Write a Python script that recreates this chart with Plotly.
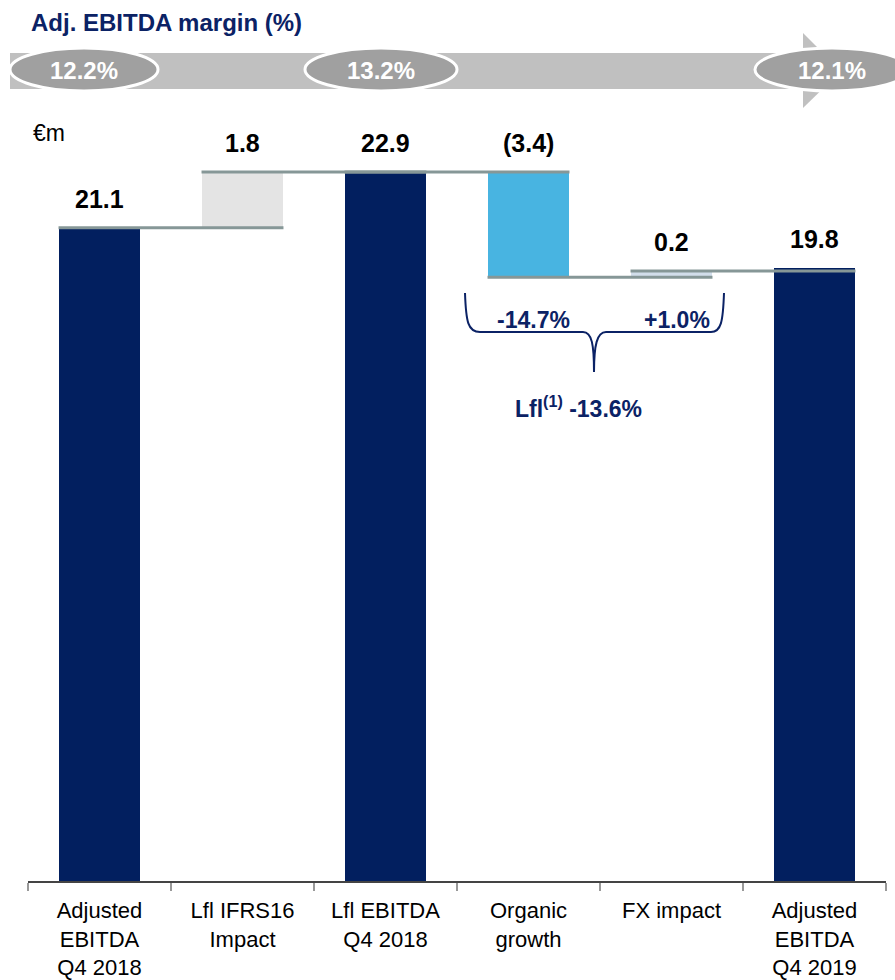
import plotly.graph_objects as go

# ---- data ----
categories = ["Adjusted<br>EBITDA<br>Q4 2018", "Lfl IFRS16<br>Impact", "Lfl EBITDA<br>Q4 2018",
              "Organic<br>growth", "FX impact", "Adjusted<br>EBITDA<br>Q4 2019"]
values = [21.1, 1.8, 22.9, -3.4, 0.2, 19.8]
measures = ["total", "relative", "total", "relative", "relative", "total"]
bar_colors = ["#021f5f", "#e4e4e4", "#021f5f", "#48b4e1", "#d2deeb", "#021f5f"]
margin_labels = ["12.2%", "13.2%", "12.1%"]
growth_labels = ["-14.7%", "+1.0%"]
lfl_label = "Lfl<sup>(1)</sup> -13.6%"

FONT = "Liberation Sans, Arial, sans-serif"
NAVY = "#0b2265"
CONN = "#869797"
W, H = 895, 980
L, R, T, B = 28, 9, 107, 99
YMAX = 25.0
BW = 0.573

# ---- compute bases ----
bases, tops = [], []
level = 0.0
for v, m in zip(values, measures):
    if m == "total":
        bases.append(0.0)
        level = v
    else:
        bases.append(level)
        level = level + v
    tops.append(level)

xs = list(range(len(values)))
fig = go.Figure()
fig.add_trace(go.Bar(x=xs, y=values, base=bases, width=BW,
                     marker=dict(color=bar_colors, line=dict(width=0)),
                     showlegend=False, hoverinfo="skip"))

# connector lines: level after bar i from bar i left edge to bar i+1 right edge
for i in range(len(values) - 1):
    fig.add_trace(go.Scatter(x=[i - BW / 2, i + 1 + BW / 2], y=[tops[i], tops[i]],
                             mode="lines", line=dict(color=CONN, width=3),
                             showlegend=False, hoverinfo="skip"))

# value labels
for i, (v, b) in enumerate(zip(values, bases)):
    top = max(b, b + v)
    txt = f"({abs(v):.1f})" if v < 0 else f"{v:.1f}"
    fig.add_annotation(x=i, y=top, text=f"<b>{txt}</b>", showarrow=False,
                       yanchor="middle", yshift=29,
                       font=dict(family=FONT, size=25, color="#000000"))

def px(X):
    return (X - L) / (W - L - R)

def py(Y):
    return (H - B - Y) / (H - T - B)

shapes = []
# margin band + arrow
shapes.append(dict(type="rect", xref="paper", yref="paper", x0=px(10), x1=px(804),
                   y0=py(89), y1=py(53), fillcolor="#c0c0c0", line=dict(width=0), layer="above"))
tri = f"M {px(803)},{py(33)} L {px(841)},{py(71)} L {px(803)},{py(108)} Z"
shapes.append(dict(type="path", xref="paper", yref="paper", path=tri,
                   fillcolor="#c0c0c0", line=dict(width=0), layer="above"))
ell_x = [(10, 158), (305, 457), (755, 909)]
for (a, b_), lab in zip(ell_x, margin_labels):
    shapes.append(dict(type="circle", xref="paper", yref="paper", x0=px(a), x1=px(b_),
                       y0=py(91), y1=py(48), fillcolor="#a0a0a0",
                       line=dict(color="#ffffff", width=3), layer="above"))
    fig.add_annotation(xref="paper", yref="paper", x=px((a + b_) / 2), y=py(70),
                       text=f"<b>{lab}</b>", showarrow=False, xanchor="center", yanchor="middle",
                       font=dict(family=FONT, size=24, color="#ffffff"))

# brace
pts = [(465, 293), (466, 322), (468, 332), (480, 332), (583, 332), (592, 332), (594, 345), (594, 372),
       (594, 345), (597, 332), (606, 332), (711, 332), (721, 332), (723, 322), (724, 293)]
P = [(px(a), py(b_)) for a, b_ in pts]
path = (f"M {P[0][0]},{P[0][1]} C {P[1][0]},{P[1][1]} {P[2][0]},{P[2][1]} {P[3][0]},{P[3][1]} "
        f"L {P[4][0]},{P[4][1]} C {P[5][0]},{P[5][1]} {P[6][0]},{P[6][1]} {P[7][0]},{P[7][1]} "
        f"C {P[8][0]},{P[8][1]} {P[9][0]},{P[9][1]} {P[10][0]},{P[10][1]} "
        f"L {P[11][0]},{P[11][1]} C {P[12][0]},{P[12][1]} {P[13][0]},{P[13][1]} {P[14][0]},{P[14][1]}")
shapes.append(dict(type="path", xref="paper", yref="paper", path=path,
                   line=dict(color=NAVY, width=2), layer="above"))

for xx, yy, t in [(533, 320, growth_labels[0]), (677, 320, growth_labels[1]), (578, 407, lfl_label)]:
    fig.add_annotation(xref="paper", yref="paper", x=px(xx), y=py(yy), text=f"<b>{t}</b>",
                       showarrow=False, xanchor="center", yanchor="middle",
                       font=dict(family=FONT, size=23, color=NAVY))

# title and unit
fig.add_annotation(xref="paper", yref="paper", x=px(29), y=py(22), text="<b>Adj. EBITDA margin (%)</b>",
                   showarrow=False, xanchor="left", yanchor="middle",
                   font=dict(family=FONT, size=24, color=NAVY))
fig.add_annotation(xref="paper", yref="paper", x=px(31), y=py(133), text="€m",
                   showarrow=False, xanchor="left", yanchor="middle",
                   font=dict(family=FONT, size=23, color="#000000"))

fig.update_layout(
    width=W, height=H, margin=dict(l=L, r=R, t=T, b=B, autoexpand=False),
    plot_bgcolor="#ffffff", paper_bgcolor="#ffffff",
    shapes=shapes, bargap=0,
    xaxis=dict(range=[-0.5, len(values) - 0.5], tickmode="array", tickvals=xs, ticktext=categories,
               ticks="", showgrid=False, zeroline=False, showline=True, linecolor="#444444", linewidth=1.5,
               ticklabelstandoff=9, automargin=False,
               tickfont=dict(family=FONT, size=22, color="#000000"),
               minor=dict(tickmode="array", tickvals=[i - 0.5 for i in range(len(values) + 1)],
                          ticks="outside", ticklen=8, tickcolor="#999999", tickwidth=1.5, showgrid=False)),
    yaxis=dict(range=[0, YMAX], visible=False, showgrid=False, zeroline=False),
)

fig.write_html("out.html")
